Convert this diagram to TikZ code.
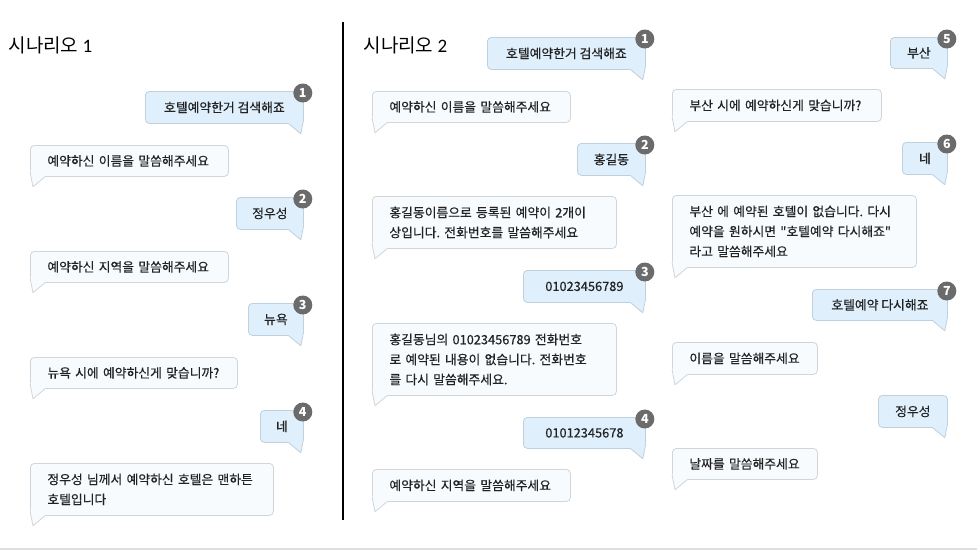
\documentclass[tikz,border=0pt]{standalone}
\usepackage{fontspec}
\setmainfont{Noto Sans CJK KR}
\newfontfamily\msgfont{Noto Sans CJK KR}[FakeBold=0.4]
\newfontfamily\digitfont{Carlito}
\usepackage{xcolor}
\usepackage{tikz}
\usetikzlibrary{positioning,calc}
\definecolor{userfill}{HTML}{DFF0FC}
\definecolor{userline}{HTML}{BFD0DC}
\definecolor{botfill}{HTML}{F7FBFE}
\definecolor{botline}{HTML}{CFD6DB}
\definecolor{badgegray}{HTML}{6B6B6B}
\definecolor{msgtext}{HTML}{222222}
\frenchspacing

\begin{document}
\begin{tikzpicture}[x=1pt, y=-1pt,
    msg/.style={anchor=north west, rounded corners=4pt, line width=0.8pt,
      inner sep=2pt, align=left, text=msgtext,
      font=\msgfont\fontsize{12.8}{20}\selectfont},
    usermsg/.style={msg, draw=userline, fill=userfill},
    botmsg/.style={msg, draw=botline, fill=botfill},
    badge/.style={circle, fill=badgegray, text=white, inner sep=0pt,
      minimum size=19pt, font=\fontsize{12.5}{13}\selectfont\bfseries},
    title/.style={anchor=west, font=\fontsize{19}{22}\selectfont}]
  \useasboundingbox (0,0) rectangle (977,552);

  % T\'itulos y separador
  \node[title] (t1) at (5,45) {시나리오 {\digitfont 1}};
  \node[title] (t2) at (360,45) {시나리오 {\digitfont 2}};
  \coordinate (sepTop) at (343,22);
  \coordinate (sepBot) at (343,520);
  \draw[line width=2.4pt] (sepTop) -- (sepBot);
  \coordinate (baseL) at (0,549);
  \coordinate (baseR) at (977,549);
  \draw[gray!25, line width=1.4pt] (baseL) -- (baseR);

  % Mensajes del usuario (cola a la derecha)
  \foreach \nm/\x/\y/\w/\h/\txt in {
    s1a/145/91/158/32/{호텔예약한거 검색해죠},
    s1c/236/197/67/32/{정우성},
    s1e/248/303/55/32/{뉴욕},
    s1g/260/410/43/32/{네},
    s2a/487/37/158/32/{호텔예약한거 검색해죠},
    s2c/577/143/68/32/{홍길동},
    s2e/523/270/122/32/{01023456789},
    s2g/523/417/122/31/{01012345678},
    s2i/890/37/57/31/{부산},
    s2k/902/142/45/32/{네},
    s2m/812/289/135/31/{호텔예약 다시해죠},
    s2o/878/395/69/32/{정우성}}{
    \node[usermsg, minimum width=\w, minimum height=\h] (\nm) at (\x,\y) {\txt};
    \fill[userfill] ($(\nm.south east)+(-15,-6)$) -- ($(\nm.south east)+(-15,0)$)
      -- ($(\nm.south east)+(-3,10)$) -- ($(\nm.south east)+(-0.4,-5)$)
      -- ($(\nm.south east)+(-0.4,-6)$) -- cycle;
    \draw[userline, line width=0.8pt, line join=round]
      ($(\nm.south east)+(-15,0)$) -- ($(\nm.south east)+(-3,10)$)
      -- ($(\nm.south east)+(0,-5)$);
  }

  % Mensajes del bot (cola a la izquierda)
  \foreach \nm/\x/\y/\w/\h/\txt in {
    s1b/30/145/198/31/{예약하신 이름을 말씀해주세요},
    s1d/30/251/198/31/{예약하신 지역을 말씀해주세요},
    s1f/30/357/207/31/{뉴욕 시에 예약하신게 맞습니까?},
    s1h/30/463/243/52/{정우성 님께서 예약하신 호텔은 맨하튼\\호텔입니다},
    s2b/372/91/198/31/{예약하신 이름을 말씀해주세요},
    s2d/372/196/244/52/{홍길동이름으로 등록된 예약이 2개이\\상입니다. 전화번호를 말씀해주세요},
    s2f/372/323/244/72/{홍길동님의 01023456789 전화번호\\로 예약된 내용이 없습니다. 전화번호\\를 다시 말씀해주세요.},
    s2h/372/469/198/32/{예약하신 지역을 말씀해주세요},
    s2j/672/89/209/32/{부산 시에 예약하신게 맞습니까?},
    s2l/672/195/244/72/{부산 에 예약된 호텔이 없습니다. 다시\\예약을 원하시면 \textquotedbl 호텔예약 다시해죠\textquotedbl\\라고 말씀해주세요},
    s2n/672/342/145/32/{이름을 말씀해주세요},
    s2p/672/448/145/31/{날짜를 말씀해주세요}}{
    \pgfmathsetmacro\tw{\w-34}
    \node[botmsg, text width=\tw pt, inner xsep=17pt, minimum height=\h] (\nm) at (\x,\y) {\txt};
    \fill[botfill] ($(\nm.south west)+(15,-6)$) -- ($(\nm.south west)+(15,0)$)
      -- ($(\nm.south west)+(3,10)$) -- ($(\nm.south west)+(0.4,-5)$)
      -- ($(\nm.south west)+(0.4,-6)$) -- cycle;
    \draw[botline, line width=0.8pt, line join=round]
      ($(\nm.south west)+(15,0)$) -- ($(\nm.south west)+(3,10)$)
      -- ($(\nm.south west)+(0,-5)$);
  }

  % N\'umeros de paso
  \foreach \nm/\k in {s1a/1, s1c/2, s1e/3, s1g/4,
                      s2a/1, s2c/2, s2e/3, s2g/4, s2i/5, s2k/6, s2m/7}{
    \node[badge] (n\nm) at ($(\nm.north east)+(-1,2)$) {\k};
  }
\end{tikzpicture}
\end{document}
